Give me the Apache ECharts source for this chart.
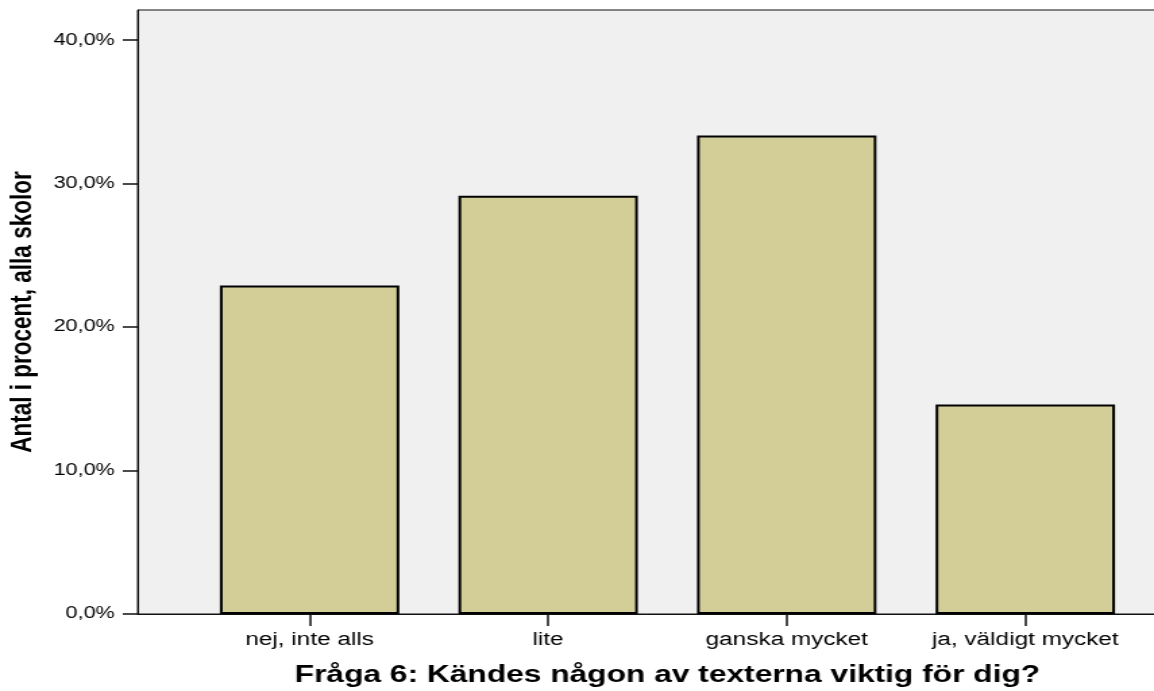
<!DOCTYPE html>
<html>
<head>
<meta charset="utf-8">
<script src="https://cdn.jsdelivr.net/npm/echarts@6/dist/echarts.min.js"></script>
<style>
    html, body { margin: 0; padding: 0; background: #fff; overflow: hidden; }
    /* originalet är horisontellt utdraget, så vi ritar smalare och skalar i x-led */
    #chart { width: 855px; height: 691px; transform: scaleX(1.3497); transform-origin: 0 0; }
</style>
</head>
<body>
<div id="chart"></div>
<script>
// kategorier och värden (procent)
const categories = ['nej, inte alls', 'lite', 'ganska mycket', 'ja, väldigt mycket'];
const values = [22.9, 29.15, 33.35, 14.6];
const yTicks = [0, 10, 20, 30, 40];
const yMax = 42.1;

const font = "'Liberation Sans', Arial, sans-serif";

window.addEventListener('DOMContentLoaded', function() {
    initChart();
});

function initChart() {
    const chart = echarts.init(document.getElementById('chart'));
    const option = {
        animation: false,
        textStyle: { fontFamily: font, color: '#000' },
        grid: [
            // bakgrund + y-axel
            {
                left: 102, right: -5, top: 10, bottom: 77,
                show: true, backgroundColor: '#F0F0F0',
                borderColor: '#111', borderWidth: 1,
                outerBoundsMode: 'none'
            },
            // staplar
            {
                left: 141, right: 7, top: 10, bottom: 77,
                outerBoundsMode: 'none'
            }
        ],
        xAxis: [
            {
                gridIndex: 0, type: 'value', min: 0, max: 1,
                axisLine: { show: true, lineStyle: { color: '#111', width: 1 } },
                axisTick: { show: false }, axisLabel: { show: false }, splitLine: { show: false }
            },
            {
                gridIndex: 1, type: 'category', data: categories,
                axisLine: { show: false },
                axisTick: { show: true, alignWithLabel: true, length: 12, inside: false,
                    lineStyle: { color: '#111', width: 1.5 } },
                axisLabel: { fontSize: 18, color: '#000', margin: 17, interval: 0, fontFamily: font },
                name: 'Fråga 6: Kändes någon av texterna viktig för dig?',
                nameLocation: 'middle', nameGap: 50,
                nameTextStyle: { fontSize: 23.5, fontWeight: 'bold', color: '#000', fontFamily: font }
            }
        ],
        yAxis: [
            {
                gridIndex: 0, type: 'value', min: 0, max: yMax, interval: 10,
                axisLine: { show: true, lineStyle: { color: '#111', width: 1 } },
                axisTick: { show: true, length: 11, customValues: yTicks,
                    lineStyle: { color: '#111', width: 1.5 } },
                axisLabel: {
                    fontSize: 16, color: '#000', margin: 17, fontFamily: font,
                    customValues: yTicks,
                    formatter: function(v) { return v.toFixed(1).replace('.', ',') + '%'; }
                },
                splitLine: { show: false },
                name: 'Antal i procent, alla skolor',
                nameLocation: 'middle', nameGap: 72, nameRotate: 90,
                nameTextStyle: { fontSize: 22.5, fontWeight: 'bold', color: '#000', fontFamily: font }
            },
            {
                gridIndex: 1, type: 'value', min: 0, max: yMax, show: false
            }
        ],
        series: [
            {
                type: 'bar',
                xAxisIndex: 1, yAxisIndex: 1,
                data: values,
                barWidth: '75.2%',
                itemStyle: { color: '#D3CE97', borderColor: '#000', borderWidth: 2 }
            }
        ]
    };
    chart.setOption(option);
}
</script>
</body>
</html>
